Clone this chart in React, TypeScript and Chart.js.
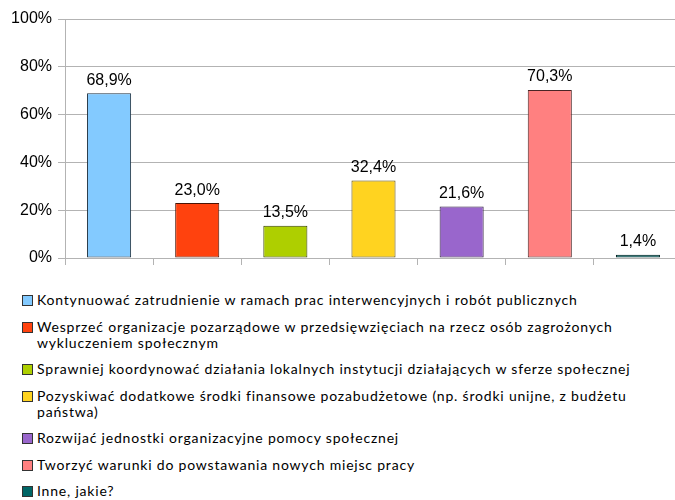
import React, { useEffect, useRef } from "react";
import { Chart, registerables } from "chart.js";

Chart.register(...registerables);

const categories: string[] = [
  "Kontynuować zatrudnienie w ramach prac interwencyjnych i robót publicznych",
  "Wesprzeć organizacje pozarządowe w przedsięwzięciach na rzecz osób zagrożonych\nwykluczeniem społecznym",
  "Sprawniej koordynować działania lokalnych instytucji działających w sferze społecznej",
  "Pozyskiwać dodatkowe środki finansowe pozabudżetowe (np. środki unijne, z budżetu\npaństwa)",
  "Rozwijać jednostki organizacyjne pomocy społecznej",
  "Tworzyć warunki do powstawania nowych miejsc pracy",
  "Inne, jakie?",
];

const values: number[] = [68.9, 23.0, 13.5, 32.4, 21.6, 70.3, 1.4];

const barColors: string[] = [
  "#83CAFF",
  "#FF420E",
  "#AECF00",
  "#FFD320",
  "#9966CC",
  "#FF8080",
  "#006666",
];

const borderColors: string[] = [
  "#1e3140",
  "#4a1405",
  "#343e00",
  "#5a4a08",
  "#2e1f3d",
  "#4a2525",
  "#002020",
];

const yTickValues: number[] = [0, 20, 40, 60, 80, 100];

const fmt = (v: number) => v.toFixed(1).replace(".", ",") + "%";

const dataLabelPlugin = {
  id: "dataLabels",
  afterDatasetsDraw(chart: any) {
    const ctx = chart.ctx;
    const meta = chart.getDatasetMeta(0);
    ctx.save();
    ctx.font = '16px "Liberation Sans", Arial, sans-serif';
    ctx.fillStyle = "#000";
    ctx.textAlign = "center";
    ctx.textBaseline = "alphabetic";
    meta.data.forEach((bar: any, i: number) => {
      ctx.fillText(fmt(values[i]), bar.x, bar.y - 8.5);
    });
    ctx.restore();
  },
};

export default function App() {
  const ref = useRef<HTMLCanvasElement | null>(null);

  useEffect(() => {
    if (!ref.current) return;
    const chart = new Chart(ref.current, {
      type: "bar",
      data: {
        labels: categories.map((c) => c.replace("\n", " ")),
        datasets: [
          {
            data: values,
            backgroundColor: barColors,
            borderColor: borderColors,
            borderWidth: 1,
            borderSkipped: false,
            barPercentage: 0.5,
            categoryPercentage: 1.0,
          },
        ],
      },
      options: {
        responsive: false,
        animation: false,
        layout: { padding: { top: 19, right: 18, left: 0, bottom: 0 } },
        plugins: {
          legend: { display: false },
          tooltip: { enabled: false },
        },
        scales: {
          x: {
            grid: {
              offset: true,
              drawOnChartArea: false,
              drawTicks: true,
              tickLength: 7,
              color: "#b3b3b3",
            },
            border: { display: false },
            ticks: { display: false },
            afterFit: (s: any) => {
              s.height = 22;
            },
          },
          y: {
            min: 0,
            max: 100,
            afterBuildTicks: (s: any) => {
              s.ticks = yTickValues.map((v) => ({ value: v }));
            },
            ticks: {
              callback: (v: any) => v + "%",
              color: "#000",
              font: { family: '"Liberation Sans", Arial, sans-serif', size: 16 },
              padding: 6,
            },
            grid: { color: "#b3b3b3", tickLength: 7 },
            border: { display: true, color: "#b3b3b3" },
            afterFit: (s: any) => {
              s.width = 65;
            },
          },
        },
      },
      plugins: [dataLabelPlugin],
    });
    return () => chart.destroy();
  }, []);

  return (
    <div
      style={{
        position: "absolute",
        left: 0,
        top: 0,
        width: 675,
        height: 500,
        overflow: "hidden",
        background: "#fff",
      }}
    >
      <canvas
        ref={ref}
        width={700}
        height={280}
        style={{ display: "block", width: 700, height: 280 }}
      />
      <div
        style={{
          position: "absolute",
          left: 22,
          top: 292,
          display: "flex",
          flexDirection: "column",
          gap: 10.5,
          fontFamily: "Lato, sans-serif",
          fontSize: 14,
          letterSpacing: 0.8,
          lineHeight: "16px",
          color: "#000",
        }}
      >
        {categories.map((c, i) => (
          <div key={i} style={{ display: "flex", alignItems: "flex-start" }}>
            <span
              style={{
                display: "inline-block",
                width: 9,
                height: 9,
                marginTop: 3,
                marginRight: 4,
                background: barColors[i],
                border: "1px solid #333",
                flex: "0 0 auto",
              }}
            />
            <span style={{ whiteSpace: "pre" }}>{c}</span>
          </div>
        ))}
      </div>
    </div>
  );
}
